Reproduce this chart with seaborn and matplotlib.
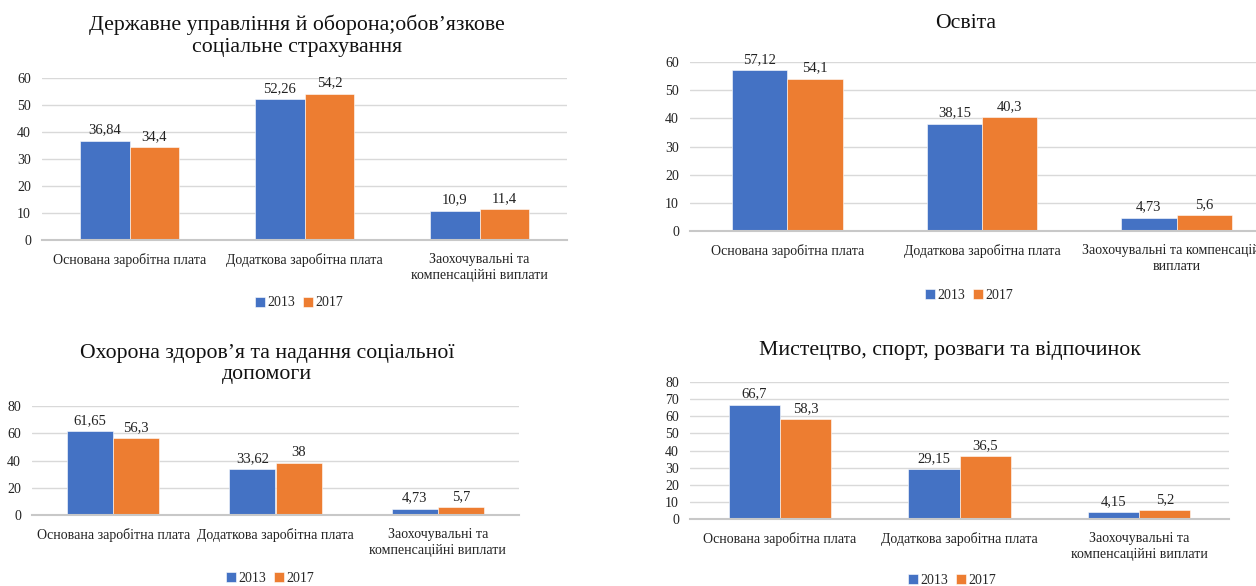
import matplotlib
matplotlib.use("Agg")
import matplotlib.pyplot as plt
import seaborn as sns
import pandas as pd

# ---- data ----
categories = ["Основана заробітна плата", "Додаткова заробітна плата",
              "Заохочувальні та компенсаційні виплати"]
labels_wrapped = ["Основана заробітна плата", "Додаткова заробітна плата",
                  "Заохочувальні та\nкомпенсаційні виплати"]
labels_wide = ["Основана заробітна плата", "Додаткова заробітна плата",
               "Заохочувальні та компенсаційні\nвиплати"]
years = ["2013", "2017"]

title1 = "Державне управління й оборона;обов’язкове\nсоціальне страхування"
vals1_2013 = [36.84, 52.26, 10.9]
vals1_2017 = [34.4, 54.2, 11.4]

title2 = "Освіта"
vals2_2013 = [57.12, 38.15, 4.73]
vals2_2017 = [54.1, 40.3, 5.6]

title3 = "Охорона здоров’я та надання соціальної\nдопомоги"
vals3_2013 = [61.65, 33.62, 4.73]
vals3_2017 = [56.3, 38, 5.7]

title4 = "Мистецтво, спорт, розваги та відпочинок"
vals4_2013 = [66.7, 29.15, 4.15]
vals4_2017 = [58.3, 36.5, 5.2]

y1_ticks = [0, 10, 20, 30, 40, 50, 60]
y2_ticks = [0, 10, 20, 30, 40, 50, 60]
y3_ticks = [0, 20, 40, 60, 80]
y4_ticks = [0, 10, 20, 30, 40, 50, 60, 70, 80]

BLUE = "#4472C4"
ORANGE = "#ED7D31"
GRID = "#D9D9D9"

sns.set_theme(style="white")
plt.rcParams["font.family"] = ["Liberation Serif", "DejaVu Serif"]

fig = plt.figure(figsize=(12.56, 5.86), dpi=100)


def panel(rect, v13, v17, ticks, ticklabels, title, title_xy, legend_xy):
    ax = fig.add_axes(rect)
    df = pd.DataFrame({
        "cat": categories * 2,
        "val": list(v13) + list(v17),
        "year": [years[0]] * 3 + [years[1]] * 3,
    })
    sns.barplot(data=df, x="cat", y="val", hue="year", order=categories,
                hue_order=years, palette=[BLUE, ORANGE], width=0.57,
                ax=ax, legend=False, edgecolor="white", linewidth=0.4,
                saturation=1)
    for cont in ax.containers:
        ax.bar_label(cont, labels=[f"{b.get_height():g}".replace(".", ",")
                                   for b in cont],
                     padding=3, fontsize=10.5, color="#222222")
    ax.set_ylim(ticks[0], ticks[-1])
    ax.set_yticks(ticks)
    ax.set_yticklabels([str(t) for t in ticks], fontsize=10, color="#222222")
    ax.set_xticks(range(3))
    ax.set_xticklabels(ticklabels, fontsize=10, color="#222222",
                       linespacing=1.25)
    ax.set_xlim(-0.5, 2.5)
    ax.set_xlabel("")
    ax.set_ylabel("")
    ax.yaxis.grid(True, color=GRID, linewidth=1)
    ax.set_axisbelow(True)
    for s in ["top", "right", "left"]:
        ax.spines[s].set_visible(False)
    ax.spines["bottom"].set_color("#C8C8C8")
    ax.spines["bottom"].set_linewidth(1.5)
    ax.tick_params(axis="x", length=0, pad=9.5)
    ax.tick_params(axis="y", length=0, pad=8)
    fig.text(title_xy[0] / 1256, 1 - title_xy[1] / 586, title,
             ha="center", va="center", fontsize=15.7, color="#111111",
             linespacing=1.2)
    fig.legend(handles=[ax.containers[0], ax.containers[1]], labels=years,
               loc="center",
               bbox_to_anchor=(legend_xy[0] / 1256, 1 - legend_xy[1] / 586),
               ncol=2, frameon=False, fontsize=10, handlelength=0.7,
               handleheight=0.7, handletextpad=0.15, columnspacing=0.6,
               borderpad=0)
    return ax


def rect(x0, x1, ytop, ybot):
    return [x0 / 1256, 1 - ybot / 586, (x1 - x0) / 1256, (ybot - ytop) / 586]


panel(rect(42, 567, 78, 240), vals1_2013, vals1_2017, y1_ticks,
      labels_wrapped, title1, (297, 36), (299, 303))
panel(rect(690, 1274, 62, 231), vals2_2013, vals2_2017, y2_ticks,
      labels_wide, title2, (966, 23), (969, 295))
panel(rect(32, 519, 406, 515), vals3_2013, vals3_2017, y3_ticks,
      labels_wrapped, title3, (267, 364), (270, 578))
panel(rect(690, 1229, 382, 519), vals4_2013, vals4_2017, y4_ticks,
      labels_wrapped, title4, (950, 351), (952, 580))

fig.savefig("out.png", dpi=100)
